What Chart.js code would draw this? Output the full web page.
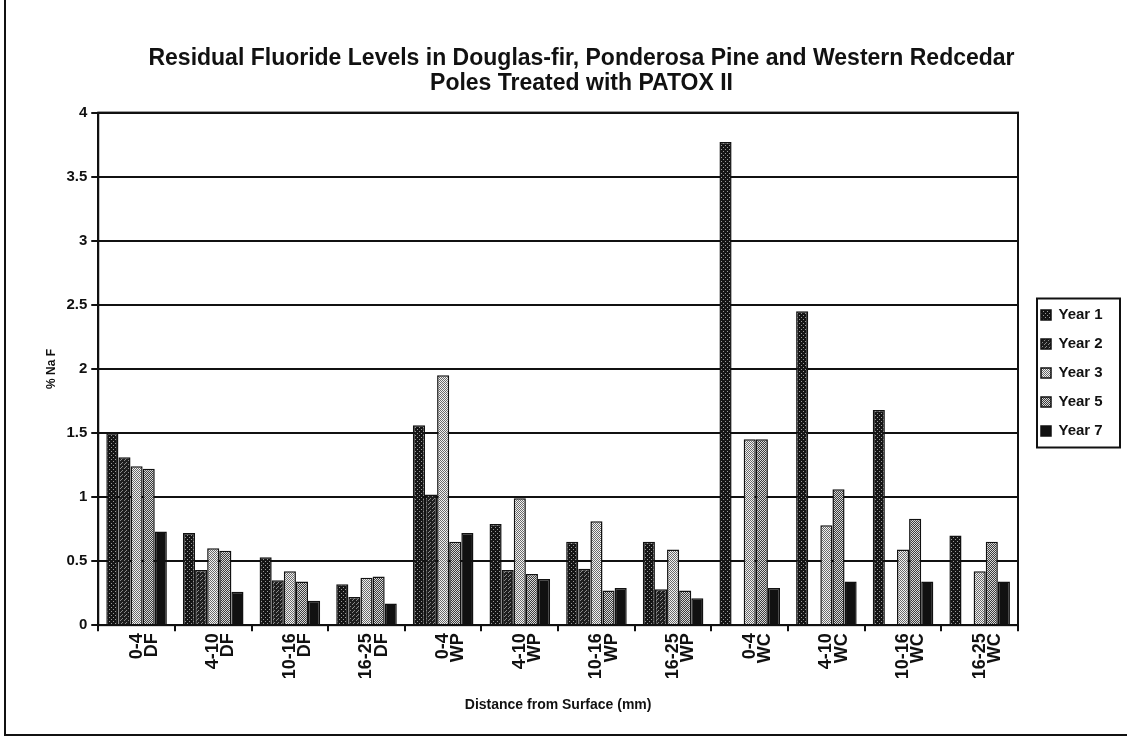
<!DOCTYPE html>
<html>
<head>
<meta charset="utf-8">
<script src="https://cdn.jsdelivr.net/npm/chart.js@4.4.0/dist/chart.umd.min.js"></script>
<style>
  body { margin: 0; background: #fff; }
  #wrap { position: relative; width: 1127px; height: 740px; }
  #frame { position: absolute; left: 4px; top: -4px; width: 1130px; height: 738px;
           border-left: 2px solid #111; border-bottom: 2px solid #111; }
</style>
</head>
<body>
<div id="wrap">
  <div id="frame"></div>
  <canvas id="chart" width="1127" height="740"></canvas>
</div>
<script>
const categories = [
  ['0-4', 'DF'], ['4-10', 'DF'], ['10-16', 'DF'], ['16-25', 'DF'],
  ['0-4', 'WP'], ['4-10', 'WP'], ['10-16', 'WP'], ['16-25', 'WP'],
  ['0-4', 'WC'], ['4-10', 'WC'], ['10-16', 'WC'], ['16-25', 'WC']
];
const year1 = [1.50, 0.72, 0.53, 0.32, 1.56, 0.79, 0.65, 0.65, 3.77, 2.45, 1.68, 0.70];
const year2 = [1.31, 0.43, 0.35, 0.22, 1.02, 0.43, 0.44, 0.28, null, null, null, null];
const year3 = [1.24, 0.60, 0.42, 0.37, 1.95, 0.99, 0.81, 0.59, 1.45, 0.78, 0.59, 0.42];
const year5 = [1.22, 0.58, 0.34, 0.38, 0.65, 0.40, 0.27, 0.27, 1.45, 1.06, 0.83, 0.65];
const year7 = [0.73, 0.26, 0.19, 0.17, 0.72, 0.36, 0.29, 0.21, 0.29, 0.34, 0.34, 0.34];
const seriesNames = ['Year 1', 'Year 2', 'Year 3', 'Year 5', 'Year 7'];

const FONT = 'Liberation Sans, Arial, sans-serif';

// small scanned-looking fill textures
function makePattern(bg, fg, cells) {
    const c = document.createElement('canvas');
    c.width = 4; c.height = 4;
    const g = c.getContext('2d');
    g.fillStyle = bg;
    g.fillRect(0, 0, 4, 4);
    g.fillStyle = fg;
    cells.forEach(p => g.fillRect(p[0], p[1], 1, 1));
    return g.createPattern(c, 'repeat');
}
const ctx = document.getElementById('chart').getContext('2d');
const checker = [[0, 0], [2, 0], [1, 1], [3, 1], [0, 2], [2, 2], [1, 3], [3, 3]];
const fills = [
    makePattern('#151515', '#9a9a9a', [[1, 1], [3, 3]]),
    makePattern('#1e1e1e', '#8a8a8a', [[0, 0], [2, 2], [1, 3]]),
    makePattern('#f2f2f2', '#6a6a6a', checker),
    makePattern('#3a3a3a', '#d8d8d8', checker),
    '#111111'
];
const values = [year1, year2, year3, year5, year7];

const LEGEND_W = 105;   // width taken by the legend column
const LEGEND_SHIFT = 9; // legend moved right, away from the plot
const BOX_INSET = 10;   // legend box border starts this far left of the items
const LEGEND_UP = 9;

// plot border, legend sizing and the box drawn round the legend
const framing = {
    id: 'framing',
    beforeUpdate(chart) {
        const lg = chart.legend;
        if (lg && !lg._wide) {
            const fit = lg.fit;
            lg.fit = function () { fit.call(this); this.width = LEGEND_W; };
            lg._wide = true;
        }
    },
    afterLayout(chart) {
        chart.legend.left += LEGEND_SHIFT;
        chart.legend.top -= LEGEND_UP;
        chart.legend.bottom -= LEGEND_UP;
    },
    afterDraw(chart) {
        const a = chart.chartArea;
        const g = chart.ctx;
        g.save();
        g.strokeStyle = '#111';
        g.lineWidth = 2;
        g.strokeRect(a.left, a.top, a.right - a.left, a.bottom - a.top);
        const L = chart.legend;
        const hb = L.legendHitBoxes;
        const top = hb[0].top - 9;
        const bottom = hb[hb.length - 1].top + hb[hb.length - 1].height + 9;
        const left = L.left + BOX_INSET;
        g.strokeRect(left, top, 1120 - left, bottom - top);
        g.restore();
    }
};

new Chart(ctx, {
    type: 'bar',
    data: {
        labels: categories,
        datasets: seriesNames.map((name, i) => ({
            label: name,
            data: values[i],
            backgroundColor: fills[i],
            borderColor: '#111',
            borderWidth: 1.5,
            barPercentage: 1.0,
            categoryPercentage: 0.79
        }))
    },
    options: {
        responsive: false,
        animation: false,
        layout: { padding: { left: 40, right: 4, top: 46, bottom: 22 } },
        plugins: {
            title: {
                display: true,
                text: ['Residual Fluoride Levels in Douglas-fir, Ponderosa Pine and Western Redcedar',
                       'Poles Treated with PATOX II'],
                color: '#111',
                font: { family: FONT, size: 23, weight: 'bold', lineHeight: 1.1 },
                padding: { top: 0, bottom: 16 }
            },
            legend: {
                position: 'right',
                labels: {
                    color: '#111',
                    boxWidth: 10,
                    boxHeight: 10,
                    padding: 14,
                    font: { family: FONT, size: 15, weight: 'bold' }
                }
            },
            tooltip: { enabled: false }
        },
        scales: {
            x: {
                grid: { display: true, drawOnChartArea: false, color: '#111', lineWidth: 2, tickLength: 6 },
                border: { color: '#111', width: 2 },
                ticks: {
                    color: '#111',
                    minRotation: 90,
                    maxRotation: 90,
                    autoSkip: false,
                    padding: 2,
                    font: { family: FONT, size: 18, weight: 'bold', lineHeight: 0.85 }
                },
                title: {
                    display: true,
                    text: 'Distance from Surface (mm)',
                    color: '#111',
                    font: { family: FONT, size: 14, weight: 'bold' },
                    padding: { top: 16 }
                }
            },
            y: {
                min: 0,
                max: 4,
                grid: { color: '#111', lineWidth: 2, tickLength: 7 },
                border: { color: '#111', width: 2 },
                ticks: {
                    stepSize: 0.5,
                    color: '#111',
                    padding: 4,
                    callback: v => String(v),
                    font: { family: FONT, size: 15, weight: 'bold' }
                },
                title: {
                    display: true,
                    text: '% Na F',
                    color: '#111',
                    font: { family: FONT, size: 12, weight: 'bold' },
                    padding: { top: 4, bottom: 4 }
                }
            }
        }
    },
    plugins: [framing]
});
</script>
</body>
</html>
